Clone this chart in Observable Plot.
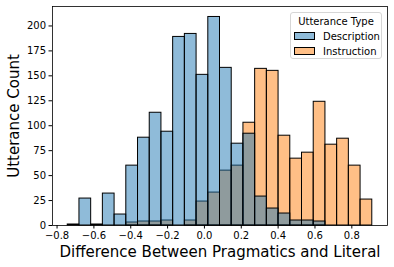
<!DOCTYPE html>
<html><head><meta charset="utf-8">
<script src="https://cdn.jsdelivr.net/npm/d3@7"></script>
<script src="https://cdn.jsdelivr.net/npm/@observablehq/plot@0.6"></script>
<style>
body{margin:0;background:#fff;}
#wrap{position:relative;width:394px;height:267px;font-family:"DejaVu Sans",sans-serif;color:#000;}
.legend{position:absolute;left:290px;top:12px;width:92px;height:47px;border:1px solid #d6d6d6;border-radius:3px;background:rgba(255,255,255,0.8);font-size:10px;box-sizing:border-box;}
.legend .title{position:absolute;left:0;right:0;top:3px;text-align:center;line-height:12px;}
.legend .item{position:absolute;left:3px;height:12px;line-height:12px;white-space:nowrap;}
.legend .sw{display:inline-block;width:19px;height:6px;border:1px solid #000;vertical-align:middle;margin-right:8px;position:relative;top:-1px;}
</style>
</head><body>
<div id="wrap"></div>
<script>
const edges = [-0.742,-0.6784,-0.6148,-0.5513,-0.4877,-0.4241,-0.3605,-0.2969,-0.2334,-0.1698,-0.1062,-0.0426,0.0210,0.0845,0.1481,0.2117,0.2753,0.3389,0.4024,0.4660,0.5296,0.5932,0.6568,0.7203,0.7839,0.8475,0.9111];
const description = [1,27,1,32,11,60,88,113,94,189,192,151,209,158,82,92,29,17,12,5,5,4,0,0,0,0];
const instruction = [0,0,0,0,0,3,4,4,5,0,5,24,33,55,60,103,157,155,90,67,73,124,81,87,60,26];
const seriesNames = ["Description","Instruction"];
const seriesColors = ["#1f77b4","#ff7f0e"];
const xTicks = [-0.8,-0.6,-0.4,-0.2,0.0,0.2,0.4,0.6,0.8];
const yTicks = [0,25,50,75,100,125,150,175,200];
const xLabel = "Difference Between Pragmatics and Literal";
const yLabel = "Utterance Count";
const legendTitle = "Utterance Type";

const toBins = (vals, name) => vals.map((v,i)=>({x1:edges[i], x2:edges[i+1], y:v, type:name}));

const chart = Plot.plot({
  width:394, height:267,
  marginLeft:52, marginRight:7, marginTop:6, marginBottom:42,
  style:{fontFamily:"DejaVu Sans", fontSize:"10px", background:"white", color:"black", overflow:"visible"},
  x:{domain:[-0.8247,0.9937]},
  y:{domain:[0,219.5]},
  marks:[
    Plot.rect(toBins(instruction, seriesNames[1]), {x1:"x1", x2:"x2", y1:0, y2:"y", fill:seriesColors[1], fillOpacity:0.5, stroke:"black", strokeWidth:1}),
    Plot.rect(toBins(description, seriesNames[0]), {x1:"x1", x2:"x2", y1:0, y2:"y", fill:seriesColors[0], fillOpacity:0.5, stroke:"black", strokeWidth:1}),
    Plot.frame({stroke:"black", strokeWidth:0.8}),
    Plot.axisX({ticks:xTicks, tickFormat:d3.format(".1f"), tickSize:3.5, tickPadding:3, fontSize:10, label:null}),
    Plot.axisY({ticks:yTicks, tickFormat:d=>String(d), tickSize:3.5, tickPadding:3, fontSize:10, label:null}),
    Plot.text([xLabel], {text:d=>d, frameAnchor:"bottom", lineAnchor:"middle", textAnchor:"middle", dy:27, fontSize:15}),
    Plot.text([yLabel], {text:d=>d, frameAnchor:"left", lineAnchor:"middle", textAnchor:"middle", dx:-38, rotate:-90, fontSize:15})
  ]
});
const wrap = document.getElementById("wrap");
wrap.appendChild(chart);

const lg = document.createElement("div");
lg.className = "legend";
let html = `<div class="title">${legendTitle}</div>`;
seriesNames.forEach((n,i)=>{
  const c = d3.color(seriesColors[i]); c.opacity = 0.5;
  html += `<div class="item" style="top:${18+i*15}px"><span class="sw" style="background:${c.formatRgb()}"></span>${n}</div>`;
});
lg.innerHTML = html;
wrap.appendChild(lg);
</script>
</body></html>
